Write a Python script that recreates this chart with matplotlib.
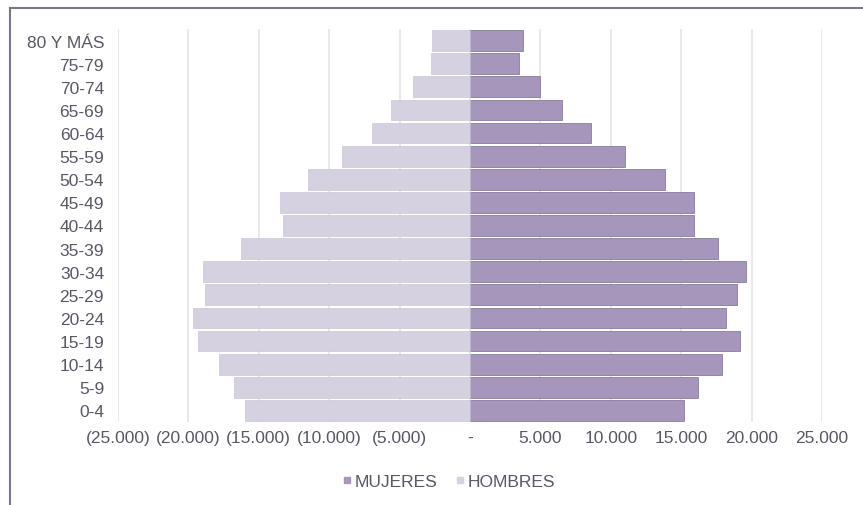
import matplotlib.pyplot as plt
import numpy as np
from matplotlib.lines import Line2D

plt.rcParams['font.family'] = ['Liberation Sans', 'DejaVu Sans']

grupos = ['0-4', '5-9', '10-14', '15-19', '20-24', '25-29', '30-34', '35-39',
          '40-44', '45-49', '50-54', '55-59', '60-64', '65-69', '70-74',
          '75-79', '80 Y MÁS']
hombres = [16010, 16790, 17800, 19320, 19650, 18800, 18940, 16260,
           13260, 13470, 11480, 9070, 6940, 5600, 4030, 2770, 2700]
mujeres = [15170, 16210, 17900, 19200, 18180, 18940, 19600, 17630,
           15930, 15930, 13820, 11010, 8590, 6510, 4940, 3500, 3740]
ticks = [-25000, -20000, -15000, -10000, -5000, 0, 5000, 10000, 15000, 20000, 25000]

c_muj = '#a696bb'
c_hom = '#d6d1e0'
c_txt = '#5a5666'
fs = 12.5

fig = plt.figure(figsize=(8.63, 5.06), dpi=100)
ax = fig.add_axes([118 / 863, 1 - 423 / 506, (822 - 118) / 863, (423 - 30) / 506])

y = np.arange(len(grupos))
ax.barh(y, mujeres, height=0.9, color=c_muj, edgecolor='#8a7d9e', linewidth=0.6,
        label='MUJERES', zorder=3)
ax.barh(y, [-h for h in hombres], height=0.9, color=c_hom, edgecolor='#c4bed0',
        linewidth=0.4, label='HOMBRES', zorder=3)

ax.set_xlim(-25000, 25000)
ax.set_ylim(-0.5, len(grupos) - 0.5)
ax.set_xticks(ticks)


def fmt(v):
    if v == 0:
        return '-'
    s = f'{abs(v):,}'.replace(',', '.')
    return f'({s})' if v < 0 else s


ax.set_xticklabels([fmt(t) for t in ticks], color=c_txt, fontsize=fs)
ax.set_yticks(y)
ax.set_yticklabels(grupos, color=c_txt, fontsize=fs)
ax.tick_params(length=0)
ax.tick_params(axis='y', pad=10)
ax.tick_params(axis='x', pad=6)
ax.grid(axis='x', color='#e6e4ea', linewidth=1.2, zorder=0)
for s in ax.spines.values():
    s.set_visible(False)

handles = [Line2D([], [], marker='s', color='none', markerfacecolor=c_muj,
                  markeredgecolor=c_muj, markersize=5),
           Line2D([], [], marker='s', color='none', markerfacecolor=c_hom,
                  markeredgecolor=c_hom, markersize=5)]
fig.legend(handles, ['MUJERES', 'HOMBRES'], loc='center', bbox_to_anchor=(448 / 863, 1 - 482 / 506),
           ncol=2, frameon=False, fontsize=fs, labelcolor=c_txt, handletextpad=0.05,
           columnspacing=1.0, handlelength=0.7)

# marco exterior
fig.add_artist(Line2D([10 / 863, 10 / 863], [0, 1 - 9 / 506], color='#7a7788', linewidth=1.5))
fig.add_artist(Line2D([10 / 863, 1], [1 - 9 / 506, 1 - 9 / 506], color='#7a7788', linewidth=1.5))

fig.savefig('out.png', dpi=100)
